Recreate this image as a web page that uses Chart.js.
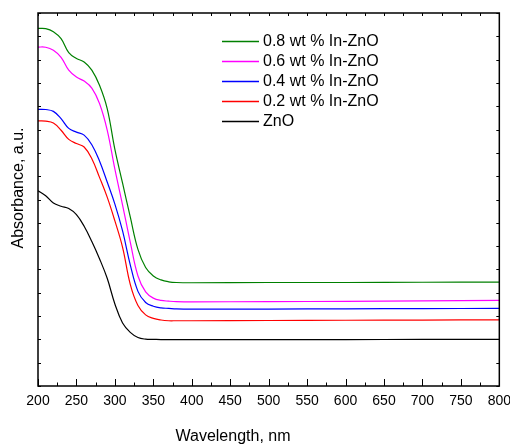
<!DOCTYPE html>
<html>
<head>
<meta charset="utf-8">
<script src="https://cdn.jsdelivr.net/npm/chart.js@4/dist/chart.umd.min.js"></script>
<style>
  html, body { margin: 0; padding: 0; background: #fff; }
  #wrap { width: 510px; height: 446px; }
</style>
</head>
<body>
<div id="wrap"><canvas id="uvChart"></canvas></div>
<script>
// UV-Vis absorbance spectra, ZnO and In-doped ZnO
const wavelengths = [200, 210, 220, 230, 240, 250, 260, 270, 280, 290, 300, 310, 320, 330, 340, 350, 360, 370, 380, 400, 500, 600, 700, 800];

const absIn08 = [15.34, 15.33, 15.2, 14.9, 14.3, 14.05, 13.9, 13.55, 12.9, 11.9, 10.15, 8.7, 7.25, 5.86, 5.08, 4.72, 4.55, 4.47, 4.44, 4.43, 4.44, 4.44, 4.45, 4.46];
const absIn06 = [14.54, 14.53, 14.4, 14.1, 13.55, 13.25, 13.08, 12.78, 12.12, 10.98, 9.3, 7.76, 6.17, 4.72, 4.04, 3.77, 3.67, 3.64, 3.62, 3.61, 3.62, 3.63, 3.65, 3.67];
const absIn04 = [11.87, 11.86, 11.78, 11.47, 11.05, 10.89, 10.76, 10.35, 9.65, 8.75, 7.8, 6.65, 5.2, 4.06, 3.58, 3.42, 3.35, 3.33, 3.31, 3.30, 3.30, 3.31, 3.32, 3.33];
const absIn02 = [11.37, 11.36, 11.28, 10.97, 10.58, 10.40, 10.25, 9.75, 8.95, 8.1, 7.08, 5.95, 4.36, 3.45, 3.05, 2.9, 2.83, 2.80, 2.80, 2.80, 2.81, 2.82, 2.83, 2.84];
const absZnO  = [8.37, 8.16, 7.85, 7.71, 7.61, 7.35, 6.85, 6.2, 5.46, 4.62, 3.52, 2.7, 2.3, 2.08, 2.01, 2.0, 1.99, 1.99, 1.99, 1.99, 1.99, 1.99, 2.00, 2.00];

const seriesLabels = ['0.8 wt % In-ZnO', '0.6 wt % In-ZnO', '0.4 wt % In-ZnO', '0.2 wt % In-ZnO', 'ZnO'];
const seriesValues = [absIn08, absIn06, absIn04, absIn02, absZnO];
const seriesColors = ['#008000', '#ff00ff', '#0000ff', '#ff0000', '#000000'];

const FONT = "'Liberation Sans', Arial, sans-serif";

// frame, inward ticks, in-plot legend and axis titles
const frameDecor = {
  id: 'frameDecor',
  afterDraw(chart) {
    const { ctx, chartArea: a, scales: { x, y } } = chart;
    ctx.save();
    ctx.strokeStyle = '#000';
    ctx.lineWidth = 1.5;
    ctx.strokeRect(a.left, a.top, a.right - a.left, a.bottom - a.top);

    ctx.lineWidth = 1;
    ctx.beginPath();
    x.ticks.forEach(t => {
      const px = Math.round(x.getPixelForValue(t.value)) + 0.5;
      const major = t.value % 50 === 0;
      ctx.moveTo(px, a.bottom); ctx.lineTo(px, a.bottom - (major ? 7 : 3.5));
      ctx.moveTo(px, a.top);    ctx.lineTo(px, a.top + 3);
    });
    y.ticks.forEach(t => {
      const py = Math.round(y.getPixelForValue(t.value)) + 0.5;
      ctx.moveTo(a.left, py);  ctx.lineTo(a.left + 3, py);
      ctx.moveTo(a.right, py); ctx.lineTo(a.right - 3, py);
    });
    ctx.stroke();

    // legend
    ctx.font = `16px ${FONT}`;
    ctx.textBaseline = 'middle';
    ctx.textAlign = 'left';
    chart.data.datasets.forEach((ds, i) => {
      const ly = 41.5 + i * 20;
      ctx.strokeStyle = ds.borderColor;
      ctx.lineWidth = 1.3;
      ctx.beginPath();
      ctx.moveTo(222, ly); ctx.lineTo(259, ly);
      ctx.stroke();
      ctx.fillStyle = '#000';
      ctx.fillText(ds.label, 263, ly + 0.5);
    });

    // axis titles
    ctx.fillStyle = '#000';
    ctx.textAlign = 'center';
    ctx.fillText('Wavelength, nm', 233, 437);
    ctx.translate(18.5, 188);
    ctx.rotate(-Math.PI / 2);
    ctx.fillText('Absorbance, a.u.', 0, 0);
    ctx.restore();
  }
};

new Chart(document.getElementById('uvChart'), {
  type: 'line',
  data: {
    datasets: seriesLabels.map((label, i) => ({
      label,
      data: wavelengths.map((w, j) => ({ x: w, y: seriesValues[i][j] })),
      borderColor: seriesColors[i],
      borderWidth: 1.2,
      pointRadius: 0,
      fill: false,
      tension: 0.4,
    })),
  },
  options: {
    responsive: true, maintainAspectRatio: false, animation: false,
    devicePixelRatio: 1,
    layout: { padding: { top: 13, right: 4, left: 0, bottom: 0 } },
    plugins: { legend: { display: false }, tooltip: { enabled: false } },
    scales: {
      x: {
        type: 'linear', min: 200, max: 800,
        grid: { display: false }, border: { display: false },
        ticks: {
          stepSize: 25, autoSkip: false, maxRotation: 0, padding: -1,
          color: '#000', font: { family: FONT, size: 14 },
          callback: v => (v % 50 === 0 ? v : ''),
        },
        afterFit: s => { s.height = 60; },
      },
      y: {
        min: 0, max: 16,
        grid: { display: false }, border: { display: false },
        ticks: { stepSize: 1, display: false },
        afterFit: s => { s.width = 38; },
      },
    },
  },
  plugins: [frameDecor],
});
</script>
</body>
</html>
